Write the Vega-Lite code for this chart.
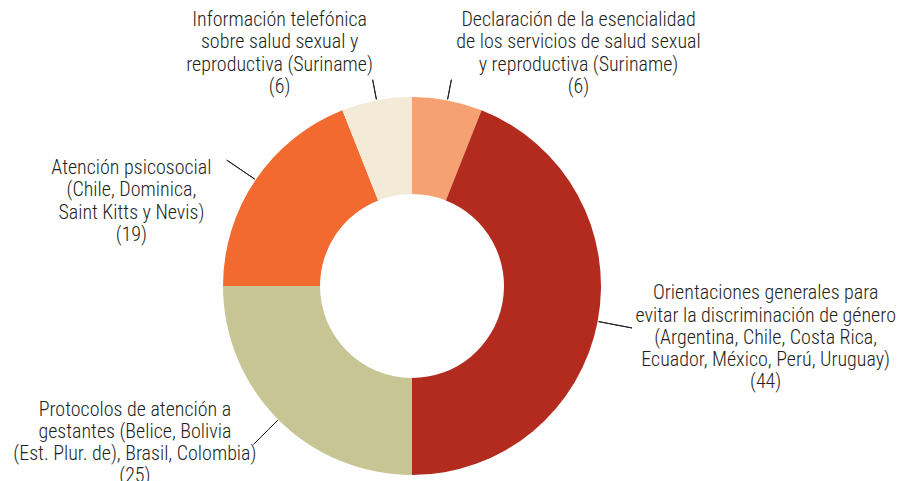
{
  "$schema": "https://vega.github.io/schema/vega-lite/v6.json",
  "autosize": "none",
  "width": 824,
  "height": 390,
  "padding": {"left": 0, "top": 91, "right": 78, "bottom": 0},
  "background": "white",
  "config": {"view": {"stroke": null}},
  "data": {
    "values": [
      {"orden": 1, "categoria": "Declaración", "valor": 6, "label": "Declaración de la esencialidad\nde los servicios de salud sexual\ny reproductiva (Suriname)\n(6)"},
      {"orden": 2, "categoria": "Orientaciones", "valor": 44, "label": "Orientaciones generales para\nevitar la discriminación de género\n(Argentina, Chile, Costa Rica,\nEcuador, México, Perú, Uruguay)\n(44)"},
      {"orden": 3, "categoria": "Protocolos", "valor": 25, "label": "Protocolos de atención a\ngestantes (Belice, Bolivia\n(Est. Plur. de), Brasil, Colombia)\n(25)"},
      {"orden": 4, "categoria": "Atención psicosocial", "valor": 19, "label": "Atención psicosocial\n(Chile, Dominica,\nSaint Kitts y Nevis)\n(19)"},
      {"orden": 5, "categoria": "Información telefónica", "valor": 6, "label": "Información telefónica\nsobre salud sexual y\nreproductiva (Suriname)\n(6)"}
    ]
  },
  "encoding": {
    "theta": {"field": "valor", "type": "quantitative", "stack": true},
    "order": {"field": "orden", "type": "quantitative"},
    "detail": {"field": "categoria", "type": "nominal"}
  },
  "layer": [
    {
      "mark": {"type": "arc", "outerRadius": 189, "innerRadius": 92},
      "encoding": {
        "color": {
          "field": "categoria",
          "type": "nominal",
          "scale": {
            "domain": ["Declaración", "Orientaciones", "Protocolos", "Atención psicosocial", "Información telefónica"],
            "range": ["#F6A172", "#B22B1E", "#C8C595", "#F26A2F", "#F3EAD8"]
          },
          "legend": null
        }
      }
    },
    {
      "mark": {"type": "arc", "outerRadius": 224, "innerRadius": 190, "padAngle": 3, "fillOpacity": 0, "stroke": "#231F20", "strokeWidth": 1},
      "encoding": {"strokeOpacity": {"condition": {"test": "datum.orden == 2 || datum.orden == 3 || datum.orden == 4", "value": 1}, "value": 0}}
    },
    {
      "mark": {"type": "arc", "outerRadius": 210, "innerRadius": 190, "padAngle": 3, "fillOpacity": 0, "stroke": "#231F20", "strokeWidth": 1},
      "encoding": {"strokeOpacity": {"condition": {"test": "datum.orden == 1 || datum.orden == 5", "value": 1}, "value": 0}}
    },
    {
      "mark": {"type": "text", "radius": 259, "dx": 118, "dy": -11.5, "align": "center", "baseline": "middle", "lineBreak": "\n", "fontSize": 20, "fontWeight": 300, "lineHeight": 22.3, "font": "Liberation Sans Narrow, Roboto Condensed, DejaVu Sans Condensed, sans-serif", "color": "#231F20"},
      "encoding": {"text": {"condition": {"test": "datum.orden == 1", "field": "label"}, "value": ""}}
    },
    {
      "mark": {"type": "text", "radius": 357, "dx": 3, "dy": -59.6, "align": "center", "baseline": "middle", "lineBreak": "\n", "fontSize": 20, "fontWeight": 300, "lineHeight": 22.3, "font": "Liberation Sans Narrow, Roboto Condensed, DejaVu Sans Condensed, sans-serif", "color": "#231F20"},
      "encoding": {"text": {"condition": {"test": "datum.orden == 2", "field": "label"}, "value": ""}}
    },
    {
      "mark": {"type": "text", "radius": 307, "dx": -60, "dy": -93.5, "align": "center", "baseline": "middle", "lineBreak": "\n", "fontSize": 20, "fontWeight": 300, "lineHeight": 22.3, "font": "Liberation Sans Narrow, Roboto Condensed, DejaVu Sans Condensed, sans-serif", "color": "#231F20"},
      "encoding": {"text": {"condition": {"test": "datum.orden == 3", "field": "label"}, "value": ""}}
    },
    {
      "mark": {"type": "text", "radius": 280, "dx": -49, "dy": 39.5, "align": "center", "baseline": "middle", "lineBreak": "\n", "fontSize": 20, "fontWeight": 300, "lineHeight": 22.3, "font": "Liberation Sans Narrow, Roboto Condensed, DejaVu Sans Condensed, sans-serif", "color": "#231F20"},
      "encoding": {"text": {"condition": {"test": "datum.orden == 4", "field": "label"}, "value": ""}}
    },
    {
      "mark": {"type": "text", "radius": 253, "dx": -85, "dy": -17.5, "align": "center", "baseline": "middle", "lineBreak": "\n", "fontSize": 20, "fontWeight": 300, "lineHeight": 22.3, "font": "Liberation Sans Narrow, Roboto Condensed, DejaVu Sans Condensed, sans-serif", "color": "#231F20"},
      "encoding": {"text": {"condition": {"test": "datum.orden == 5", "field": "label"}, "value": ""}}
    }
  ]
}
